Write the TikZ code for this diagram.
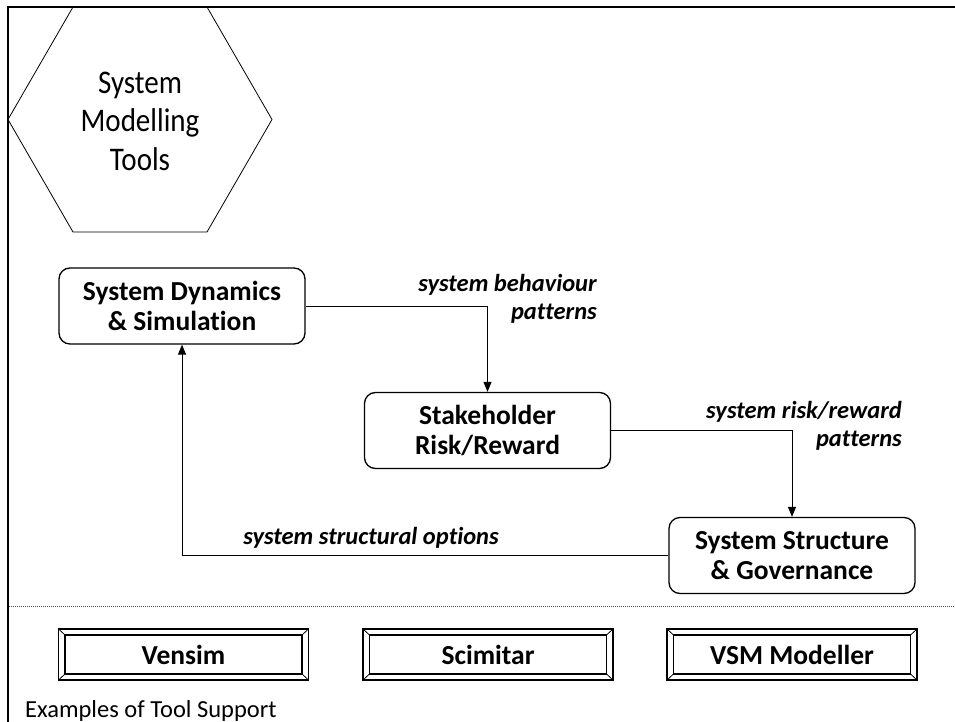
\documentclass[tikz,border=0pt]{standalone}
\usepackage{fontspec}
\setmainfont{Carlito}[Ligatures={NoCommon}]
\newfontfamily\narrowfont{Carlito}[FakeStretch=0.88, Ligatures={NoCommon}]
\usetikzlibrary{arrows.meta}

\tikzset{
  proc/.style={draw, line width=1.3pt, rounded corners=11pt,
    minimum width=246pt, minimum height=76pt, inner sep=0pt,
    align=center, font=\bfseries\fontsize{27.5}{30}\selectfont},
  flowlabel/.style={inner sep=0pt, align=right,
    font=\bfseries\itshape\fontsize{24.5}{28}\selectfont},
  link/.style={line width=0.9pt, -{Triangle[length=10pt,width=8pt]}},
  bevelbox/.style={draw, line width=1.3pt, minimum width=250pt,
    minimum height=51pt, inner sep=0pt,
    font=\bfseries\fontsize{27.5}{30}\selectfont,
    path picture={
      \coordinate (bnw) at (path picture bounding box.north west);
      \coordinate (bne) at (path picture bounding box.north east);
      \coordinate (bsw) at (path picture bounding box.south west);
      \coordinate (bse) at (path picture bounding box.south east);
      \draw[line width=1.8pt] ([shift={(6.5pt,-6pt)}]bnw) rectangle ([shift={(-6.5pt,6pt)}]bse);
      \draw[line width=0.8pt]
        (bnw) -- ([shift={(6.5pt,-6pt)}]bnw)
        (bne) -- ([shift={(-6.5pt,-6pt)}]bne)
        (bsw) -- ([shift={(6.5pt,6pt)}]bsw)
        (bse) -- ([shift={(-6.5pt,6pt)}]bse);
    }},
}

\begin{document}
\begin{tikzpicture}[x=1pt, y=-1pt]
  \useasboundingbox (0,0) rectangle (955,722);

  % outer frame (left and top edges)
  \draw[line width=2.5pt] (8,722) -- (8,7) -- (955,7);

  % hexagon heading
  \draw[line width=0.8pt] (8,119.5) -- (73,7) -- (207,7) -- (272,119.5)
    -- (207,232) -- (73,232) -- cycle;
  \node[align=center, inner sep=0pt,
    font=\narrowfont\fontsize{33}{38.5}\selectfont] (title) at (140,121)
    {System\\Modelling\\Tools};

  % process boxes
  \node[proc] (dyn) at (182,306) {System Dynamics\\\& Simulation};
  \node[proc] (risk) at (487.5,430.5) {Stakeholder\\Risk/Reward};
  \node[proc] (gov) at (792,555.5) {System Structure\\\& Governance};

  % cycle of connectors
  \draw[link] (dyn.east) -| (risk.north);
  \draw[link] (risk.east) -| (gov.north);
  \draw[link] (gov.west) -| (dyn.south);

  % connector labels
  \node[flowlabel, anchor=east] (lab1) at (597,299) {system behaviour\\patterns};
  \node[flowlabel, anchor=east] (lab2) at (902,426) {system risk/reward\\patterns};
  \node[flowlabel] (lab3) at (371,538) {system structural options};

  % separator
  \draw[line width=0.7pt, dash pattern=on 0.8pt off 1.2pt, black!70] (9,606) -- (955,606);

  % tool examples
  \node[bevelbox] (vensim) at (183.5,654.5) {Vensim};
  \node[bevelbox] (scim) at (488,654.5) {Scimitar};
  \node[bevelbox] (vsm) at (792,654.5) {VSM Modeller};

  \node[anchor=base west, inner sep=0pt,
    font=\fontsize{24.5}{28}\selectfont] (examples) at (25,717)
    {Examples of Tool Support};
\end{tikzpicture}
\end{document}
